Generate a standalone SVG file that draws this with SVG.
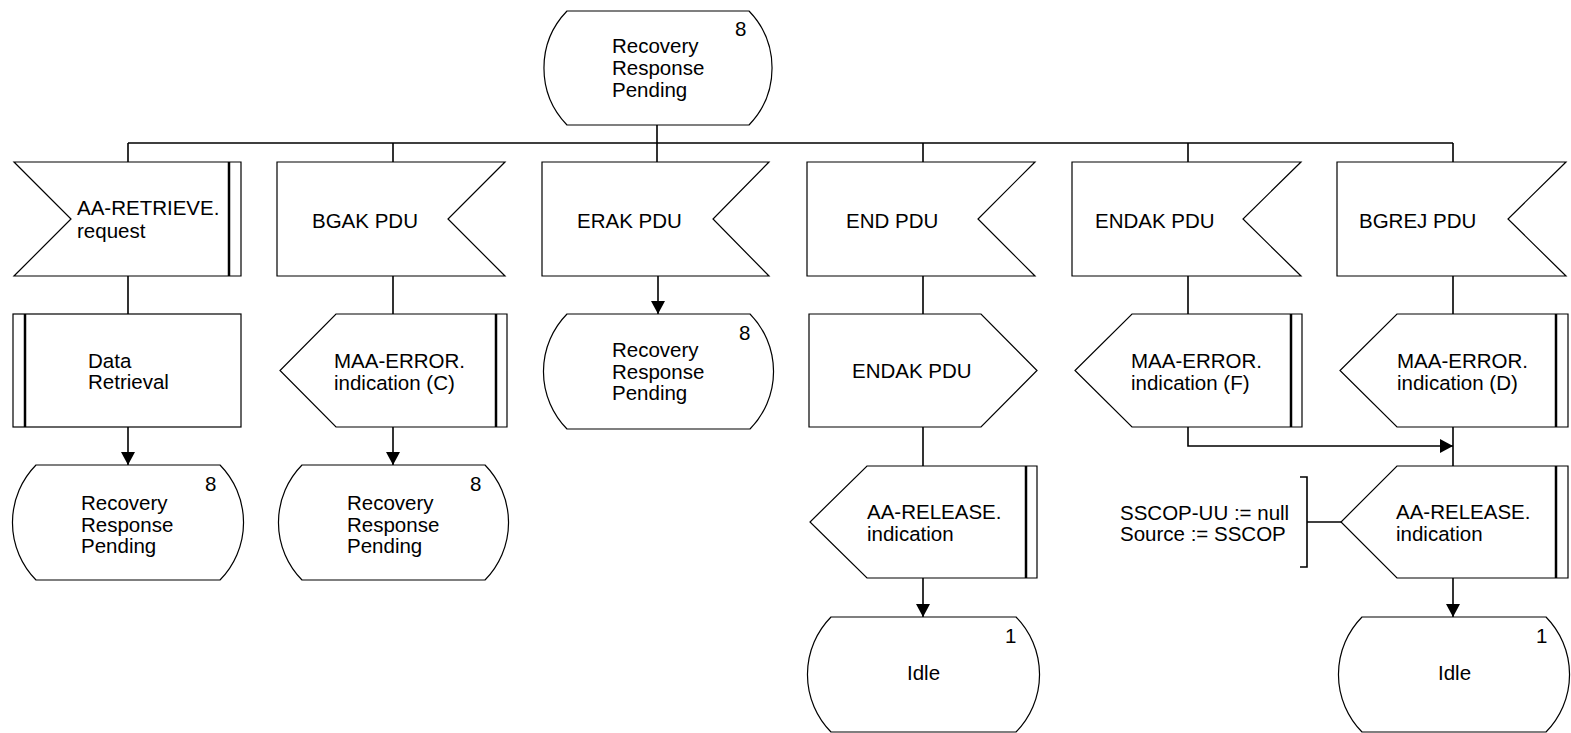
<svg xmlns="http://www.w3.org/2000/svg" width="1571" height="733" viewBox="0 0 1571 733">
<defs>
<style>
.s{fill:#fff;stroke:#000;stroke-width:1.2}
.b{stroke:#000;stroke-width:2.5;fill:none}
.c{stroke:#000;stroke-width:1.6;fill:none}
text{font-family:"Liberation Sans",Arial,sans-serif;font-size:20.5px;fill:#000}
</style>
<marker id="ah" markerUnits="userSpaceOnUse" markerWidth="14" markerHeight="14" viewBox="0 0 14 14" refX="13" refY="7" orient="auto">
<path d="M0,0 L13,7 L0,14 Z" fill="#000"/>
</marker>
</defs>
<rect width="1571" height="733" fill="#fff"/>

<g id="connectors">
<path class="c" d="M657,125 V143 M128,143 H1453 M128,143 V162 M393,143 V162 M657,143 V162 M923,143 V162 M1188,143 V162 M1453,143 V162"/>
<path class="c" d="M128,276 V314 M393,276 V314 M923,276 V314 M1188,276 V314 M1453,276 V314"/>
<path class="c" d="M128,427 V465" marker-end="url(#ah)"/>
<path class="c" d="M393,427 V465" marker-end="url(#ah)"/>
<path class="c" d="M658,276 V314" marker-end="url(#ah)"/>
<path class="c" d="M923,427 V466"/>
<path class="c" d="M923,578 V617" marker-end="url(#ah)"/>
<path class="c" d="M1188,427 V446 H1453" marker-end="url(#ah)"/>
<path class="c" d="M1453,427 V466"/>
<path class="c" d="M1453,578 V617" marker-end="url(#ah)"/>
<path class="c" d="M1307,522 H1341"/>
</g>

<g id="state_top">
<path class="s" d="M567,11 H749 A82 82 0 0 1 749,125 H567 A82 82 0 0 1 567,11 Z"/>
<text x="735" y="36">8</text>
<text x="612" y="53">Recovery</text>
<text x="612" y="75">Response</text>
<text x="612" y="97">Pending</text>
</g>

<g id="in_aa_retrieve">
<path class="s" d="M14,162 H241 V276 H14 L71,219 Z"/>
<path class="b" d="M229,162 V276"/>
<text x="77" y="215">AA-RETRIEVE.</text>
<text x="77" y="238">request</text>
</g>
<g id="in_bgak">
<path class="s" d="M277,162 H505 L448,219 L505,276 H277 Z"/>
<text x="312" y="228">BGAK PDU</text>
</g>
<g id="in_erak">
<path class="s" d="M542,162 H769 L713,219 L769,276 H542 Z"/>
<text x="577" y="228">ERAK PDU</text>
</g>
<g id="in_end">
<path class="s" d="M807,162 H1035 L978,219 L1035,276 H807 Z"/>
<text x="846" y="228">END PDU</text>
</g>
<g id="in_endak">
<path class="s" d="M1072,162 H1301 L1243,219 L1301,276 H1072 Z"/>
<text x="1095" y="228">ENDAK PDU</text>
</g>
<g id="in_bgrej">
<path class="s" d="M1337,162 H1566 L1508,219 L1566,276 H1337 Z"/>
<text x="1359" y="228">BGREJ PDU</text>
</g>

<g id="proc_data_retrieval">
<rect class="s" x="13" y="314" width="228" height="113"/>
<path class="b" d="M25,314 V427"/>
<text x="88" y="368">Data</text>
<text x="88" y="389">Retrieval</text>
</g>
<g id="out_maa_c">
<path class="s" d="M336,314 H507 V427 H336 L280,370.5 Z"/>
<path class="b" d="M496,314 V427"/>
<text x="334" y="368">MAA-ERROR.</text>
<text x="334" y="390">indication (C)</text>
</g>
<g id="state_erak">
<path class="s" d="M567,314 H750 A82 82 0 0 1 750,429 H567 A82 82 0 0 1 567,314 Z"/>
<text x="739" y="340">8</text>
<text x="612" y="357">Recovery</text>
<text x="612" y="379">Response</text>
<text x="612" y="400">Pending</text>
</g>
<g id="out_endak">
<path class="s" d="M809,314 H981 L1037,370.5 L981,427 H809 Z"/>
<text x="852" y="378">ENDAK PDU</text>
</g>
<g id="out_maa_f">
<path class="s" d="M1132,314 H1302 V427 H1132 L1075,370.5 Z"/>
<path class="b" d="M1291,314 V427"/>
<text x="1131" y="368">MAA-ERROR.</text>
<text x="1131" y="390">indication (F)</text>
</g>
<g id="out_maa_d">
<path class="s" d="M1397,314 H1568 V427 H1397 L1340,370.5 Z"/>
<path class="b" d="M1556,314 V427"/>
<text x="1397" y="368">MAA-ERROR.</text>
<text x="1397" y="390">indication (D)</text>
</g>

<g id="state_col1">
<path class="s" d="M36,465 H220 A82 82 0 0 1 220,580 H36 A82 82 0 0 1 36,465 Z"/>
<text x="205" y="491">8</text>
<text x="81" y="510">Recovery</text>
<text x="81" y="532">Response</text>
<text x="81" y="553">Pending</text>
</g>
<g id="state_col2">
<path class="s" d="M302,465 H485 A82 82 0 0 1 485,580 H302 A82 82 0 0 1 302,465 Z"/>
<text x="470" y="491">8</text>
<text x="347" y="510">Recovery</text>
<text x="347" y="532">Response</text>
<text x="347" y="553">Pending</text>
</g>

<g id="out_aa_release_4">
<path class="s" d="M867,466 H1037 V578 H867 L810,522 Z"/>
<path class="b" d="M1026,466 V578"/>
<text x="867" y="519">AA-RELEASE.</text>
<text x="867" y="541">indication</text>
</g>
<g id="out_aa_release_6">
<path class="s" d="M1397,466 H1568 V578 H1397 L1341,522 Z"/>
<path class="b" d="M1556,466 V578"/>
<text x="1396" y="519">AA-RELEASE.</text>
<text x="1396" y="541">indication</text>
</g>
<g id="comment">
<path class="c" d="M1300,477 H1307 V567 H1300"/>
<text x="1120" y="520">SSCOP-UU := null</text>
<text x="1120" y="541">Source := SSCOP</text>
</g>

<g id="idle_col4">
<path class="s" d="M831,617 H1016 A82 82 0 0 1 1016,732 H831 A82 82 0 0 1 831,617 Z"/>
<text x="1005" y="643">1</text>
<text x="907" y="680">Idle</text>
</g>
<g id="idle_col6">
<path class="s" d="M1362,617 H1546 A82 82 0 0 1 1546,732 H1362 A82 82 0 0 1 1362,617 Z"/>
<text x="1536" y="643">1</text>
<text x="1438" y="680">Idle</text>
</g>
</svg>
